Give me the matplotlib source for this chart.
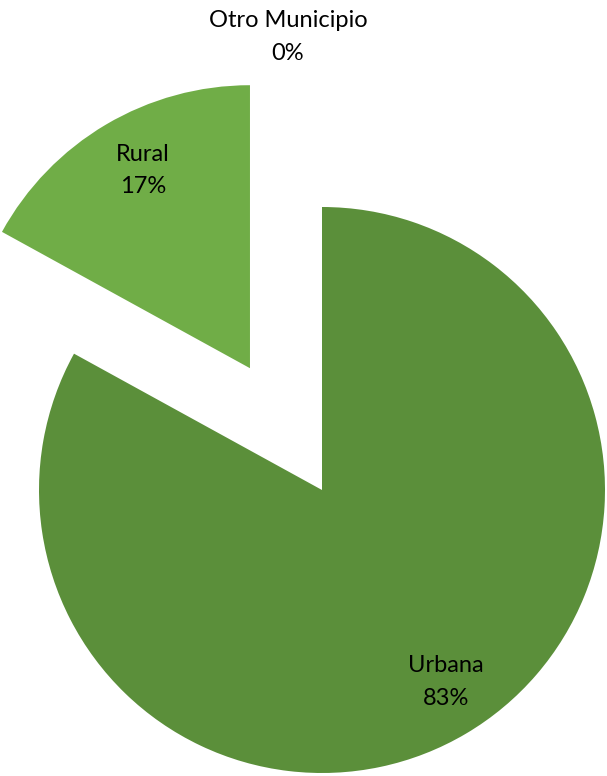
import numpy as np
import matplotlib.pyplot as plt

# Data
categories = ['Urbana', 'Rural', 'Otro Municipio']
values = [83, 17, 0]
colors = ['#5B8F3A', '#70AD47', '#A5A5A5']
explode = [0, 0.5, 0]

plt.rcParams['font.family'] = ['Lato', 'DejaVu Sans']

fig = plt.figure(figsize=(6.07, 7.76), dpi=100)
ax = fig.add_axes([0, 0, 1, 1])

# radius = 1 unit = 283 px, pie centre at pixel (322, 490)
px = 283.0

wedges, _ = ax.pie(values, colors=colors, explode=explode, startangle=90,
                   counterclock=False, radius=1, center=(0, 0),
                   wedgeprops=dict(linewidth=0), frame=True)
ax.set_xlim(-322 / px, (607 - 322) / px)
ax.set_ylim(-(776 - 490) / px, 490 / px)
ax.set_aspect('equal')
ax.axis('off')

total = sum(values)
for w, name, v in zip(wedges, categories, values):
    mid = np.deg2rad((w.theta1 + w.theta2) / 2)
    cx, cy = w.center
    pct = f"{v / total * 100:.0f}%"
    if v == 0:
        # zero slice: label sits outside above the pie
        x, y = cx - 0.12, cy + 1.6
    else:
        x = cx + 0.8 * np.cos(mid) + 0.03
        y = cy + 0.8 * np.sin(mid) + 0.01
    ax.text(x, y, f"{name}\n{pct}", ha='center', va='center',
            fontsize=17, linespacing=1.7, color='black')

fig.savefig('out.png', dpi=100)
